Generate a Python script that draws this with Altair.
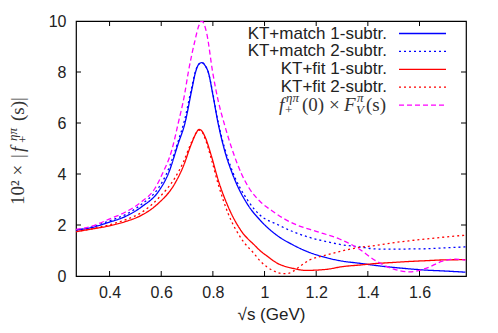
import altair as alt
import pandas as pd

# ---------------- data ----------------
mag_x = [0.27, 0.33, 0.396, 0.46, 0.525, 0.576, 0.604, 0.641, 0.666, 0.69, 0.705, 0.731, 0.745, 0.757,
         0.776, 0.799, 0.82, 0.846, 0.875, 0.911, 0.94, 0.982, 1.03, 1.08, 1.13, 1.2, 1.29, 1.36,
         1.43, 1.497, 1.561, 1.625, 1.689, 1.74, 1.778]
mag_y = [1.83, 1.95, 2.22, 2.5, 2.92, 3.44, 4.0, 4.94, 6.0, 7.1, 8.0, 9.25, 9.8, 10.0,
         9.52, 8.0, 6.9, 5.9, 4.95, 4.0, 3.45, 2.93, 2.55, 2.22, 1.98, 1.75, 1.45, 1.1,
         0.6, 0.28, 0.16, 0.3, 0.58, 0.66, 0.62]

b1_x = [0.27, 0.33, 0.396, 0.46, 0.525, 0.589, 0.627, 0.666, 0.692, 0.718, 0.733, 0.745, 0.757, 0.77,
        0.782, 0.80, 0.82, 0.846, 0.876, 0.936, 0.982, 1.046, 1.11, 1.175, 1.239, 1.303, 1.368, 1.432,
        1.496, 1.561, 1.625, 1.689, 1.778]
b1_y = [1.80, 1.9, 2.1, 2.33, 2.72, 3.31, 4.0, 5.2, 6.0, 7.29, 8.0, 8.3, 8.37, 8.25,
        8.0, 7.1, 6.0, 4.9, 4.0, 2.78, 2.2, 1.61, 1.22, 0.92, 0.72, 0.58, 0.5, 0.41,
        0.34, 0.28, 0.23, 0.2, 0.15]

b2_x = [0.27, 0.33, 0.396, 0.46, 0.525, 0.589, 0.62, 0.666, 0.69, 0.718, 0.733, 0.745, 0.757, 0.77,
        0.782, 0.80, 0.82, 0.846, 0.876, 0.936, 0.982, 1.046, 1.11, 1.175, 1.239, 1.303, 1.368, 1.432,
        1.496, 1.561, 1.625, 1.689, 1.778]
b2_y = [1.80, 1.92, 2.15, 2.4, 2.82, 3.45, 4.0, 5.3, 6.1, 7.4, 8.05, 8.3, 8.37, 8.25,
        8.0, 7.15, 6.05, 5.0, 4.1, 2.95, 2.39, 2.04, 1.74, 1.51, 1.35, 1.22, 1.14, 1.06,
        1.05, 1.06, 1.07, 1.1, 1.14]

r1_x = [0.27, 0.33, 0.396, 0.46, 0.525, 0.589, 0.653, 0.685, 0.7175, 0.735, 0.746, 0.758, 0.7695,
        0.795, 0.8206, 0.859, 0.911, 0.962, 0.982, 1.01, 1.046, 1.11, 1.16, 1.239, 1.303, 1.368,
        1.432, 1.496, 1.561, 1.625, 1.689, 1.778]
r1_y = [1.74, 1.84, 1.96, 2.13, 2.39, 2.85, 3.63, 4.29, 5.2, 5.6, 5.75, 5.68, 5.46,
        4.68, 3.76, 2.72, 1.75, 1.2, 1.0, 0.78, 0.52, 0.3, 0.22, 0.26, 0.37, 0.43,
        0.49, 0.53, 0.57, 0.6, 0.63, 0.64]

r2_x = [0.27, 0.33, 0.396, 0.46, 0.525, 0.589, 0.653, 0.685, 0.7175, 0.746, 0.758, 0.7695, 0.795,
        0.8206, 0.859, 0.911, 0.962, 0.982, 1.01, 1.04, 1.07, 1.09, 1.11, 1.136, 1.175, 1.239, 1.303,
        1.368, 1.432, 1.496, 1.561, 1.625, 1.689, 1.778]
r2_y = [1.74, 1.85, 2.0, 2.2, 2.5, 3.05, 3.85, 4.45, 5.25, 5.72, 5.65, 5.4, 4.55,
        3.6, 2.45, 1.45, 0.85, 0.6, 0.35, 0.18, 0.09, 0.1, 0.18, 0.37, 0.63, 0.82, 0.99,
        1.12, 1.2, 1.3, 1.38, 1.45, 1.52, 1.6]

series_names = ["KT+match 1-subtr.", "KT+match 2-subtr.", "KT+fit 1-subtr.", "KT+fit 2-subtr.", "mag"]
series_colors = ["#0000ff", "#0000ff", "#ff0000", "#ff0000", "#ff00ff"]
series_dash = [[1, 0], [2, 3], [1, 0], [2, 3], [5, 3]]

x_ticks = [0.4, 0.6, 0.8, 1.0, 1.2, 1.4, 1.6]
y_ticks = [0, 2, 4, 6, 8, 10]
x_domain = [0.27, 1.78]
y_domain = [0, 10]

W, H = 390, 255

rows = []
for name, xs, ys in zip(series_names, [b1_x, b2_x, r1_x, r2_x, mag_x], [b1_y, b2_y, r1_y, r2_y, mag_y]):
    for xv, yv in zip(xs, ys):
        rows.append({"series": name, "x": xv, "y": yv})
df = pd.DataFrame(rows)

xscale = alt.Scale(domain=x_domain, nice=False, zero=False)
yscale = alt.Scale(domain=y_domain, nice=False, zero=True)
xaxis = alt.Axis(values=x_ticks, ticks=False, domain=False, grid=False, labelFontSize=16,
                 labelFont="Liberation Sans", labelColor="#222", labelPadding=8,
                 title="√s (GeV)", titleFont="Liberation Sans", titleFontSize=17,
                 titleFontWeight="normal", titleColor="#222", titlePadding=6,
                 labelExpr="datum.value == 1 ? '1' : format(datum.value, '.1f')")
yaxis = alt.Axis(values=y_ticks, ticks=False, domain=False, grid=False, labelFontSize=16,
                 labelFont="Liberation Sans", labelColor="#222", labelPadding=10, title="")

color_scale = alt.Scale(domain=series_names, range=series_colors)
dash_scale = alt.Scale(domain=series_names, range=series_dash)

lines = alt.Chart(df).mark_line(strokeWidth=1.3, clip=True, interpolate="monotone").encode(
    x=alt.X("x:Q", scale=xscale, axis=xaxis),
    y=alt.Y("y:Q", scale=yscale, axis=yaxis),
    color=alt.Color("series:N", scale=color_scale, legend=None),
    strokeDash=alt.StrokeDash("series:N", scale=dash_scale, legend=None),
    order=alt.Order("x:Q"),
)

xt = pd.DataFrame({"x": x_ticks})
yt = pd.DataFrame({"y": [2, 4, 6, 8]})
tick_len = 5
bx = alt.Chart(xt).mark_rule(color="black", strokeWidth=1).encode(
    x=alt.X("x:Q", scale=xscale, axis=xaxis), y=alt.value(H), y2=alt.value(H - tick_len))
tx = alt.Chart(xt).mark_rule(color="black", strokeWidth=1).encode(
    x=alt.X("x:Q", scale=xscale, axis=xaxis), y=alt.value(0), y2=alt.value(tick_len))
ly = alt.Chart(yt).mark_rule(color="black", strokeWidth=1).encode(
    y=alt.Y("y:Q", scale=yscale, axis=yaxis), x=alt.value(0), x2=alt.value(tick_len))
ry = alt.Chart(yt).mark_rule(color="black", strokeWidth=1).encode(
    y=alt.Y("y:Q", scale=yscale, axis=yaxis), x=alt.value(W), x2=alt.value(W - tick_len))

# ---------------- legend (gnuplot style: label left, sample right) ----------------
leg = pd.DataFrame({"series": series_names, "row": list(range(5))})
leg_text = alt.Chart(leg).transform_filter("datum.row < 4").transform_calculate(
    ypix="12.5 + datum.row * 17.9").mark_text(
    align="right", baseline="middle", fontSize=17, font="Liberation Sans", color="#222").encode(
    x=alt.value(311), y=alt.Y("ypix:Q", scale=None), text="series:N")
leg_line = alt.Chart(leg).transform_calculate(ypix="12.5 + datum.row * 17.9").mark_rule(
    strokeWidth=1.3).encode(
    x=alt.value(323), x2=alt.value(370), y=alt.Y("ypix:Q", scale=None),
    color=alt.Color("series:N", scale=color_scale, legend=None),
    strokeDash=alt.StrokeDash("series:N", scale=dash_scale, legend=None))

# math label for the magenta series, composed from pieces
ym = 12.5 + 4 * 17.9
math_pieces = [
    # text, x, dy, size, style, align
    ("f", 203, 0, 19, "italic", "left"),
    ("+", 209, 5, 13, "normal", "left"),
    ("ηπ", 210, -7, 13, "italic", "left"),
    ("(0) ×", 226, 0, 19, "normal", "left"),
    ("F", 268, 0, 19, "italic", "left"),
    ("V", 280, 5, 13, "italic", "left"),
    ("π", 281, -7, 13, "italic", "left"),
    ("(s)", 290, 0, 19, "normal", "left"),
]
math_layers = []
for t, px, dy, fs, st, al in math_pieces:
    math_layers.append(alt.Chart(pd.DataFrame({"t": [t]})).mark_text(
        align=al, baseline="middle", fontSize=fs, font="Liberation Serif",
        fontStyle=st, color="#333", dy=dy).encode(
        x=alt.value(px), y=alt.value(ym), text="t:N"))

# ---------------- y-axis title composed (rotated, reads bottom to top) ----------------
ytitle_pieces = [
    # text, x (plot px), y start (plot px), size, style
    ("10² ×", -58, 184, 19, "normal"),
    ("|", -58, 137, 19, "normal"),
    ("f", -58, 131, 19, "italic"),
    ("+", -53, 122, 13, "normal"),
    ("ηπ", -63, 120, 13, "italic"),
    ("(s)|", -58, 100, 19, "normal"),
]
ytitle = []
for t, px, py, fs, st in ytitle_pieces:
    ytitle.append(alt.Chart(pd.DataFrame({"t": [t]})).mark_text(
        align="left", baseline="middle", angle=270, fontSize=fs, font="Liberation Serif",
        fontStyle=st, color="#333").encode(x=alt.value(px), y=alt.value(py), text="t:N"))

chart = alt.layer(lines, bx, tx, ly, ry, leg_line, leg_text, *math_layers, *ytitle).properties(
    width=W, height=H,
    autosize=alt.AutoSizeParams(type="none"),
    padding={"left": 68, "top": 13, "right": 24, "bottom": 49},
).configure_view(stroke="black", strokeWidth=1.2)

chart.save("out.html", embed_options={"renderer": "svg", "actions": False})
